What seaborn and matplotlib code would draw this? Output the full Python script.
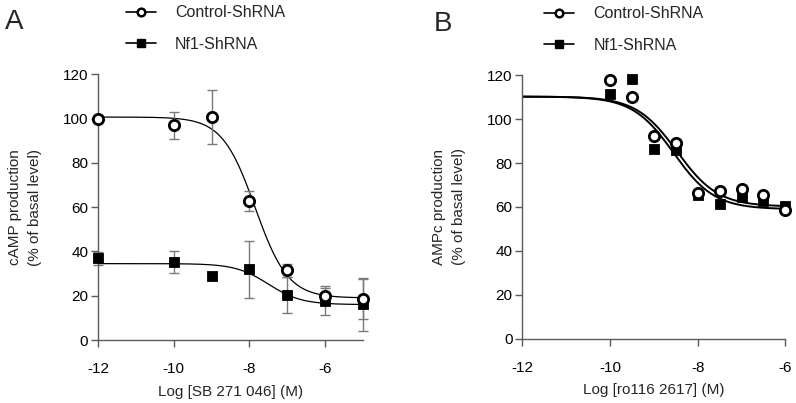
import numpy as np
import pandas as pd
import seaborn as sns
import matplotlib.pyplot as plt
from matplotlib.lines import Line2D

# ---------------- data: panel A (SB 271 046) ----------------
a_x = [-12, -10, -9, -8, -7, -6, -5]
a_ctrl = [100.0, 97.0, 100.7, 62.6, 31.5, 19.7, 18.7]
a_ctrl_err = [1.0, 6.0, 12.0, 4.5, 3.0, 4.0, 9.0]
a_nf1 = [36.9, 35.1, 28.7, 31.9, 20.3, 17.8, 16.1]
a_nf1_err = [3.0, 5.0, 0.0, 13.0, 8.0, 6.5, 12.0]
# fitted 4PL parameters: top, bottom, logIC50, hill
a_ctrl_fit = [100.7, 19.0, -7.85, 1.0]
a_nf1_fit = [34.5, 16.0, -7.5, 1.0]

# ---------------- data: panel B (ro116 2617) ----------------
b_x = [-10, -9.5, -9, -8.5, -8, -7.5, -7, -6.5, -6]
b_ctrl = [118.0, 110.0, 92.2, 89.0, 66.5, 67.4, 68.2, 65.6, 58.8]
b_nf1 = [111.6, 118.3, 86.6, 85.8, 65.6, 61.4, 64.6, 62.9, 60.5]
b_ctrl_fit = [110.3, 60.2, -8.47, 0.93]
b_nf1_fit = [110.3, 59.0, -8.55, 0.93]

labels = ['Control-ShRNA', 'Nf1-ShRNA']


def hill(x, p):
    top, bottom, c, h = p
    return bottom + (top - bottom) / (1 + 10 ** (h * (x - c)))


sns.set_style('ticks')
plt.rcParams['font.family'] = ['Liberation Sans', 'DejaVu Sans']
plt.rcParams['font.size'] = 10.5
plt.rcParams['axes.unicode_minus'] = False

fig = plt.figure(figsize=(7.96, 4.03), dpi=100)
axA = fig.add_axes([0.1231, 0.1563, 0.333, 0.6593])
axB = fig.add_axes([0.6562, 0.1596, 0.3304, 0.6536])

axis_grey = '#5a5a5a'
err_grey = '#7a7a7a'


def style_axis(ax, xmax, xlabel, ylabel):
    ax.set_xlim(-12, xmax)
    ax.set_ylim(0, 120)
    ax.set_xticks([-12, -10, -8, -6])
    ax.set_yticks(range(0, 121, 20))
    for s in ['top', 'right']:
        ax.spines[s].set_visible(False)
    for s in ['left', 'bottom']:
        ax.spines[s].set_color(axis_grey)
        ax.spines[s].set_linewidth(1.0)
    ax.tick_params(colors=axis_grey, labelcolor='black', length=5, width=1.0,
                   labelsize=11, direction='out')
    ax.tick_params(axis='x', pad=11)
    ax.tick_params(axis='y', pad=2)
    ax.set_xlabel(xlabel, fontsize=11, labelpad=6)
    ax.set_ylabel(ylabel, fontsize=11, labelpad=15, linespacing=1.55)


# ---------------- panel A ----------------
xs = np.linspace(-12, -5, 300)
curveA = pd.DataFrame({'x': np.r_[xs, xs],
                       'y': np.r_[hill(xs, a_ctrl_fit), hill(xs, a_nf1_fit)],
                       'g': [labels[0]] * len(xs) + [labels[1]] * len(xs)})
sns.lineplot(data=curveA, x='x', y='y', units='g', estimator=None,
             color='black', lw=0.9, ax=axA, legend=False)
axA.errorbar(a_x, a_ctrl, yerr=a_ctrl_err, fmt='none', ecolor=err_grey,
             elinewidth=1.0, capsize=3.5, capthick=1.0, clip_on=False, zorder=2)
axA.errorbar(a_x, a_nf1, yerr=a_nf1_err, fmt='none', ecolor=err_grey,
             elinewidth=1.0, capsize=3.5, capthick=1.0, clip_on=False, zorder=2)
ptsA_c = pd.DataFrame({'x': a_x, 'y': a_ctrl})
ptsA_n = pd.DataFrame({'x': a_x, 'y': a_nf1})
sns.scatterplot(data=ptsA_n, x='x', y='y', marker='s', s=55, color='black',
                edgecolor='black', ax=axA, clip_on=False, zorder=3)
sns.scatterplot(data=ptsA_c, x='x', y='y', marker='o', s=55, facecolor='white',
                edgecolor='black', linewidth=2.0, ax=axA, clip_on=False, zorder=4)
style_axis(axA, -5, 'Log [SB 271 046] (M)',
           'cAMP production\n(% of basal level)')

# ---------------- panel B ----------------
xs = np.linspace(-12, -6, 300)
for p in [b_ctrl_fit, b_nf1_fit]:
    sns.lineplot(x=xs, y=hill(xs, p), color='black', lw=1.4, ax=axB)
ptsB_c = pd.DataFrame({'x': b_x, 'y': b_ctrl})
ptsB_n = pd.DataFrame({'x': b_x, 'y': b_nf1})
sns.scatterplot(data=ptsB_n, x='x', y='y', marker='s', s=55, color='black',
                edgecolor='black', ax=axB, clip_on=False, zorder=3)
sns.scatterplot(data=ptsB_c, x='x', y='y', marker='o', s=55, facecolor='white',
                edgecolor='black', linewidth=2.0, ax=axB, clip_on=False, zorder=4)
style_axis(axB, -6, 'Log [ro116 2617] (M)',
           'AMPc production\n(% of basal level)')

# ---------------- legends and panel letters ----------------
handles = [
    Line2D([], [], color='black', lw=1.2, marker='o', markersize=5.5,
           markerfacecolor='white', markeredgewidth=1.8, markeredgecolor='black'),
    Line2D([], [], color='black', lw=1.2, marker='s', markersize=5.5,
           markerfacecolor='black', markeredgecolor='black'),
]
for ax in [axA, axB]:
    leg = ax.legend(handles, labels, loc='lower left',
                    bbox_to_anchor=(0.05 if ax is axA else 0.027, 1.03),
                    frameon=False, fontsize=11.5, handlelength=1.9,
                    handletextpad=1.2, labelspacing=1.05)

fig.text(0.006, 0.945, 'A', fontsize=20, va='center', ha='left')
fig.text(0.545, 0.94, 'B', fontsize=20, va='center', ha='left')

fig.savefig('out.png', dpi=100)
